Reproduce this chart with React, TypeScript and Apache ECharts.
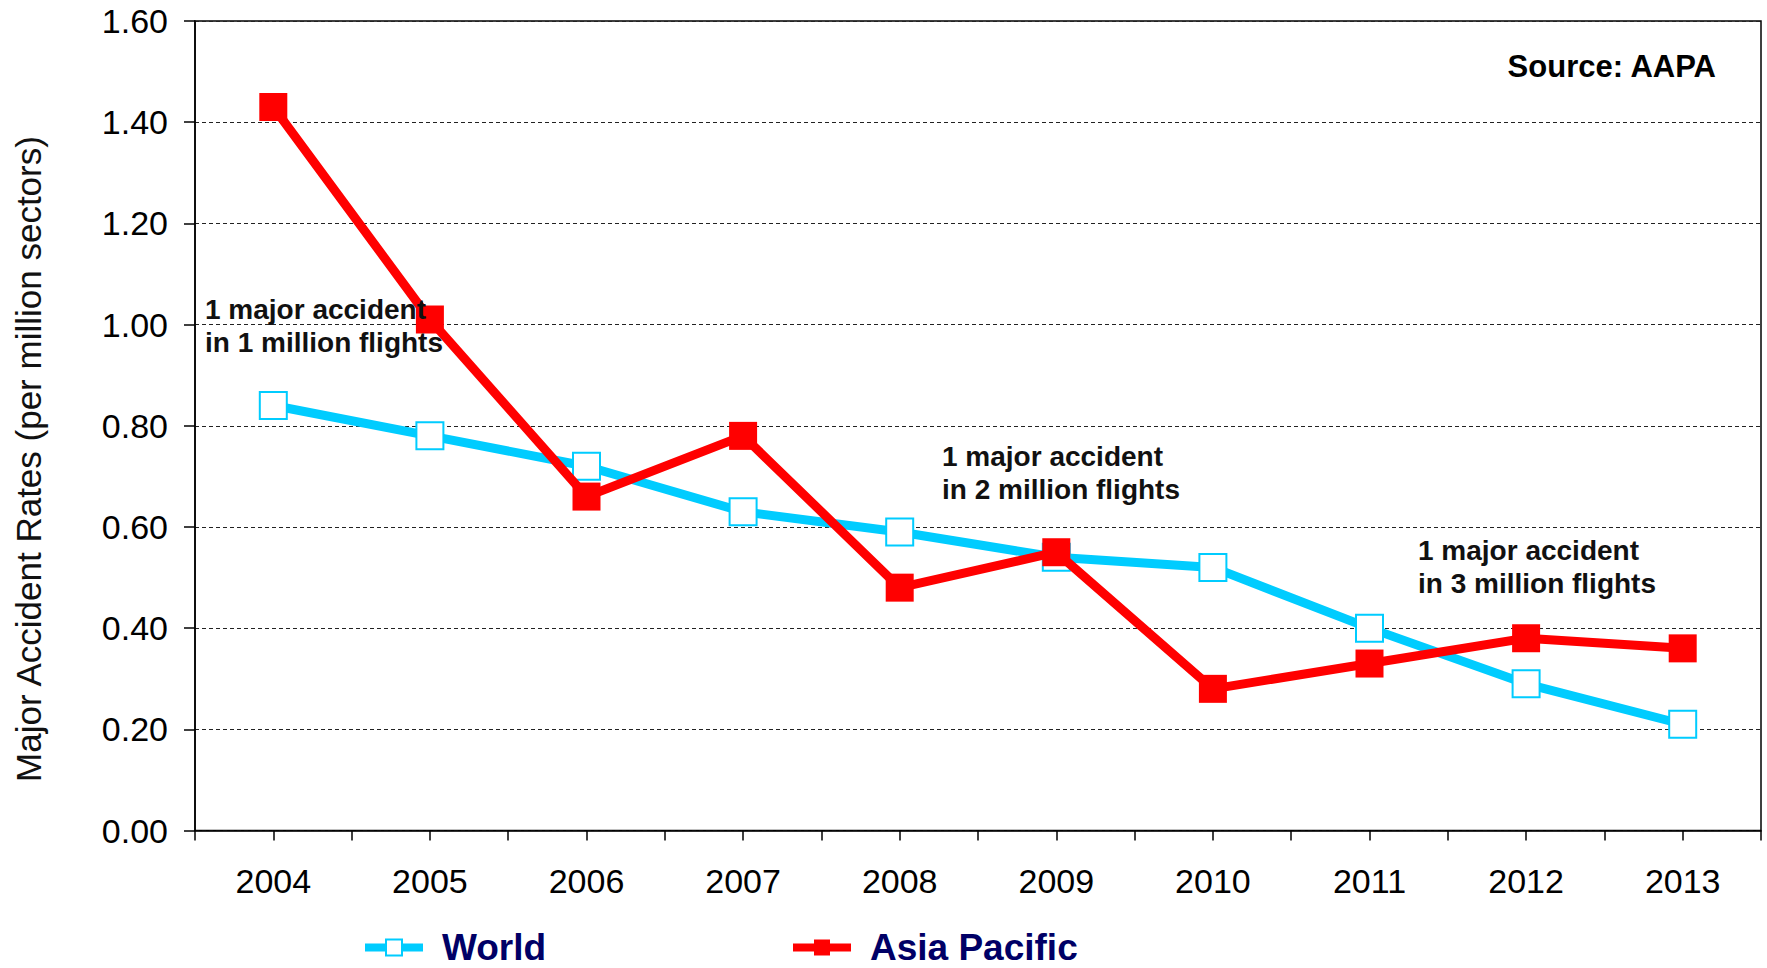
import React, { useEffect, useRef } from "react";
import * as echarts from "echarts";

const years = ["2004", "2005", "2006", "2007", "2008", "2009", "2010", "2011", "2012", "2013"];
const worldRates = [0.84, 0.78, 0.72, 0.63, 0.59, 0.54, 0.52, 0.4, 0.29, 0.21];
const asiaPacificRates = [1.43, 1.01, 0.66, 0.78, 0.48, 0.55, 0.28, 0.33, 0.38, 0.36];
const seriesNames = ["World", "Asia Pacific"];
const yAxisTitle = "Major Accident Rates (per million sectors)";
const sourceNote = "Source: AAPA";
const annotations = [
  "1 major accident\nin 1 million flights",
  "1 major accident\nin 2 million flights",
  "1 major accident\nin 3 million flights",
];

const FONT = "'Liberation Sans', Arial, sans-serif";

export default function App() {
  const ref = useRef<HTMLDivElement>(null);

  useEffect(() => {
    if (!ref.current) return;
    const chart = echarts.init(ref.current, undefined, { renderer: "svg" });
    const annoStyle = {
      fontSize: 28,
      fontWeight: "bold",
      fontFamily: FONT,
      fill: "#111",
      lineHeight: 33,
      textVerticalAlign: "top",
    };
    const legendText = {
      fontSize: 37,
      fontWeight: "bold",
      fontFamily: FONT,
      color: "#000066",
      padding: [0, 0, 0, 14],
    };
    chart.setOption({
      animation: false,
      backgroundColor: "#fff",
      textStyle: { fontFamily: FONT },
      grid: {
        left: 195,
        right: 6,
        top: 21,
        bottom: 137.5,
        show: true,
        borderColor: "#000",
        borderWidth: 1.5,
      },
      legend: [
        {
          data: [seriesNames[0]],
          left: 361,
          top: 929,
          padding: 0,
          itemWidth: 58,
          itemHeight: 20,
          lineStyle: { width: 8 },
          textStyle: legendText,
        },
        {
          data: [seriesNames[1]],
          left: 789,
          top: 929,
          padding: 0,
          itemWidth: 58,
          itemHeight: 20,
          lineStyle: { width: 8 },
          textStyle: legendText,
        },
      ],
      xAxis: [
        {
          type: "category",
          data: years,
          boundaryGap: true,
          axisLine: { show: true, lineStyle: { color: "#000", width: 1.5 } },
          axisTick: { show: false },
          axisLabel: { fontSize: 34, color: "#000", margin: 33, fontFamily: FONT },
          splitLine: { show: false },
        },
        {
          type: "value",
          min: 0,
          max: 20,
          interval: 1,
          position: "bottom",
          axisLine: { show: false },
          axisTick: { show: true, length: 10, lineStyle: { color: "#000", width: 1.5 } },
          axisLabel: { show: false },
          splitLine: { show: false },
        },
      ],
      yAxis: {
        type: "value",
        min: 0,
        max: 1.6,
        interval: 0.2,
        axisLine: { show: true, lineStyle: { color: "#000", width: 1.5 } },
        axisTick: { show: true, length: 11, lineStyle: { color: "#000", width: 1.5 } },
        axisLabel: {
          fontSize: 34,
          color: "#000",
          margin: 27,
          fontFamily: FONT,
          formatter: (v: number) => v.toFixed(2),
        },
        splitLine: { show: true, lineStyle: { color: "#222", width: 1, type: [4, 3] } },
      },
      series: [
        {
          name: seriesNames[0],
          type: "line",
          data: worldRates,
          xAxisIndex: 0,
          color: "#00CCFF",
          symbol: "rect",
          symbolSize: 27,
          lineStyle: { color: "#00CCFF", width: 9 },
          itemStyle: { color: "#ffffff", borderColor: "#00CCFF", borderWidth: 2 },
          z: 3,
        },
        {
          name: seriesNames[1],
          type: "line",
          data: asiaPacificRates,
          xAxisIndex: 0,
          color: "#FF0000",
          symbol: "rect",
          symbolSize: 28,
          lineStyle: { color: "#FF0000", width: 9 },
          itemStyle: { color: "#FF0000" },
          z: 4,
        },
      ],
      graphic: [
        {
          type: "text",
          x: 28,
          y: 459,
          rotation: Math.PI / 2,
          z: 100,
          style: {
            text: yAxisTitle,
            fontSize: 35,
            fontFamily: FONT,
            fill: "#111",
            textAlign: "center",
            textVerticalAlign: "middle",
          },
        },
        {
          type: "text",
          x: 1716,
          y: 66,
          z: 100,
          style: {
            text: sourceNote,
            fontSize: 31,
            fontWeight: "bold",
            fontFamily: FONT,
            fill: "#000",
            textAlign: "right",
            textVerticalAlign: "middle",
          },
        },
        { type: "text", x: 205, y: 293, z: 100, style: { ...annoStyle, text: annotations[0] } },
        { type: "text", x: 942, y: 440, z: 100, style: { ...annoStyle, text: annotations[1] } },
        { type: "text", x: 1418, y: 534, z: 100, style: { ...annoStyle, text: annotations[2] } },
      ],
    });
    return () => chart.dispose();
  }, []);

  return (
    <div
      ref={ref}
      style={{ position: "absolute", left: 0, top: 0, width: 1767, height: 968, background: "#fff" }}
    />
  );
}
